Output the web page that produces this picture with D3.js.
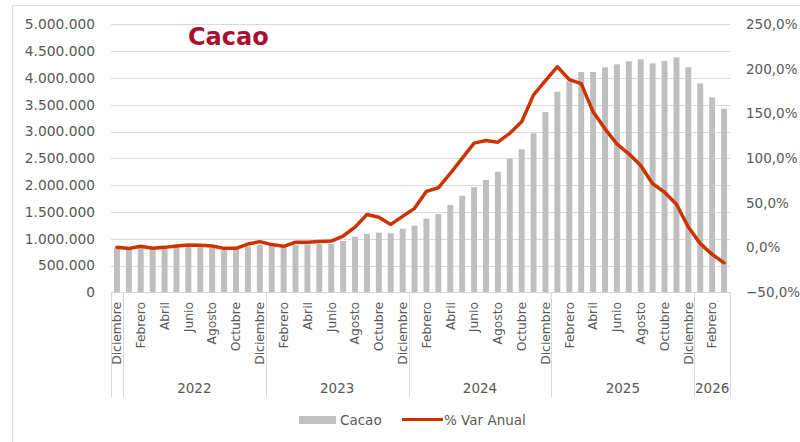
<!DOCTYPE html>
<html>
<head>
<meta charset="utf-8">
<script src="https://cdn.jsdelivr.net/npm/d3@7"></script>
<style>
  html, body { margin: 0; padding: 0; background: #ffffff; }
  svg { display: block; font-family: "DejaVu Sans", Verdana, sans-serif; }
</style>
</head>
<body>
<svg id="chart" width="800" height="442"></svg>
<script>
// ---- Data ----
const categories = [
  "Diciembre",
  "Enero","Febrero","Marzo","Abril","Mayo","Junio","Julio","Agosto","Septiembre","Octubre","Noviembre","Diciembre",
  "Enero","Febrero","Marzo","Abril","Mayo","Junio","Julio","Agosto","Septiembre","Octubre","Noviembre","Diciembre",
  "Enero","Febrero","Marzo","Abril","Mayo","Junio","Julio","Agosto","Septiembre","Octubre","Noviembre","Diciembre",
  "Enero","Febrero","Marzo","Abril","Mayo","Junio","Julio","Agosto","Septiembre","Octubre","Noviembre","Diciembre",
  "Enero","Febrero","Marzo"
];
const years = ["", "2022", "2023", "2024", "2025", "2026"];
const yearCounts = [1, 12, 12, 12, 12, 3];

const cacao = [
  830000, 810000, 825000, 800000, 820000, 845000, 858000, 845000, 832000, 795000, 808000, 858000, 882000,
  882000, 851000, 882000, 895000, 901000, 907000, 957000, 1037000, 1093000, 1112000, 1100000, 1187000,
  1243000, 1373000, 1461000, 1629000, 1802000, 1964000, 2095000, 2250000, 2493000, 2668000, 2966000, 3364000,
  3743000, 3942000, 4110000, 4110000, 4197000, 4253000, 4310000, 4347000, 4272000, 4315000, 4384000, 4197000,
  3899000, 3638000, 3426000
];
const varAnual = [
  0.5, -1, 1.5, -0.8, 0.3, 1.8, 3, 2.6, 1.8, -0.8, -0.8, 4, 6.7,
  3.4, 1.5, 6, 6, 7, 7.4, 13, 23, 37, 34, 26, 35,
  44, 63, 67, 83, 100, 117, 120, 118, 128, 141, 171, 187,
  202.5, 188, 183.6, 152, 133, 116, 105, 92, 71.6, 62, 48.5, 23,
  4.5, -7.5, -17
];
const leftTicks = [0, 500000, 1000000, 1500000, 2000000, 2500000, 3000000, 3500000, 4000000, 4500000, 5000000];
const rightTicks = [-50, 0, 50, 100, 150, 200, 250];

// ---- Setup ----
const svg = d3.select("#chart");
const locale = d3.formatLocale({decimal: ",", thousands: ".", grouping: [3], currency: ["", ""]});
const fmtLeft = locale.format(",d");
const fmtRight = v => locale.format(".1f")(v) + "%";

const plotL = 111, plotR = 730, plotT = 24.3, plotB = 292.3;
const idx = d3.range(categories.length);
const x = d3.scaleBand().domain(idx).range([plotL, plotR]).paddingInner(0.5).paddingOuter(0.25);
const step = x.step();
const y = d3.scaleLinear().domain([0, 5000000]).range([plotB, plotT]);
const y2 = d3.scaleLinear().domain([-50, 250]).range([plotB, plotT]);

// chart border
svg.append("rect").attr("x", 12.5).attr("y", 5.5).attr("width", 800).attr("height", 450)
  .attr("fill", "none").attr("stroke", "#d9d9d9").attr("stroke-width", 1);

// gridlines
svg.append("g").selectAll("line").data(leftTicks).join("line")
  .attr("x1", plotL).attr("x2", plotR)
  .attr("y1", d => Math.round(y(d)) + 0.5).attr("y2", d => Math.round(y(d)) + 0.5)
  .attr("stroke", "#d9d9d9").attr("stroke-width", 1);

// left axis labels
svg.append("g").selectAll("text").data(leftTicks).join("text")
  .attr("x", 95).attr("y", d => y(d)).attr("dy", "0.35em")
  .attr("text-anchor", "end").attr("font-size", 13.8).attr("fill", "#595959")
  .text(d => fmtLeft(d));

// right axis labels
svg.append("g").selectAll("text").data(rightTicks).join("text")
  .attr("x", 746).attr("y", d => y2(d)).attr("dy", "0.35em")
  .attr("text-anchor", "start").attr("font-size", 13.5).attr("fill", "#595959")
  .text(d => fmtRight(d));

// bars
svg.append("g").selectAll("rect").data(cacao).join("rect")
  .attr("x", (d, i) => x(i)).attr("width", x.bandwidth())
  .attr("y", d => y(d)).attr("height", d => y(0) - y(d))
  .attr("fill", "#BFBFBF");

// line
const line = d3.line().x((d, i) => x(i) + x.bandwidth() / 2).y(d => y2(d));
svg.append("path").datum(varAnual).attr("d", line)
  .attr("fill", "none").attr("stroke", "#CC3300").attr("stroke-width", 3.5)
  .attr("stroke-linejoin", "round").attr("stroke-linecap", "round");

// month labels (every second)
svg.append("g").selectAll("text").data(idx.filter(i => i % 2 === 0)).join("text")
  .attr("transform", i => `translate(${x(i) + x.bandwidth() / 2},302) rotate(-90)`)
  .attr("text-anchor", "end").attr("dy", "0.35em")
  .attr("font-size", 12.3).attr("fill", "#595959")
  .text(i => categories[i]);

// group separators
const bounds = [0];
yearCounts.forEach(c => bounds.push(bounds[bounds.length - 1] + c));
svg.append("g").selectAll("line").data(bounds).join("line")
  .attr("x1", b => Math.round(plotL + b * step) + 0.5).attr("x2", b => Math.round(plotL + b * step) + 0.5)
  .attr("y1", plotB).attr("y2", 397)
  .attr("stroke", "#d9d9d9").attr("stroke-width", 1);

// year labels
svg.append("g").selectAll("text").data(years).join("text")
  .attr("x", (d, k) => plotL + (bounds[k] + bounds[k + 1]) / 2 * step)
  .attr("y", 388).attr("dy", "0.35em")
  .attr("text-anchor", "middle").attr("font-size", 13.5).attr("fill", "#595959")
  .text(d => d);

// title
svg.append("text").attr("x", 188).attr("y", 45)
  .attr("font-size", 24).attr("font-weight", "bold").attr("fill", "#A6122F")
  .text("Cacao");

// legend
const lg = svg.append("g");
lg.append("rect").attr("x", 299).attr("y", 416).attr("width", 37).attr("height", 8).attr("fill", "#BFBFBF");
lg.append("text").attr("x", 340).attr("y", 420).attr("dy", "0.35em").attr("font-size", 13.5).attr("fill", "#595959").text("Cacao");
lg.append("line").attr("x1", 402).attr("x2", 443).attr("y1", 419.5).attr("y2", 419.5)
  .attr("stroke", "#CC3300").attr("stroke-width", 3);
lg.append("text").attr("x", 444).attr("y", 420).attr("dy", "0.35em").attr("font-size", 13.5).attr("fill", "#595959").text("% Var Anual");
</script>
</body>
</html>
